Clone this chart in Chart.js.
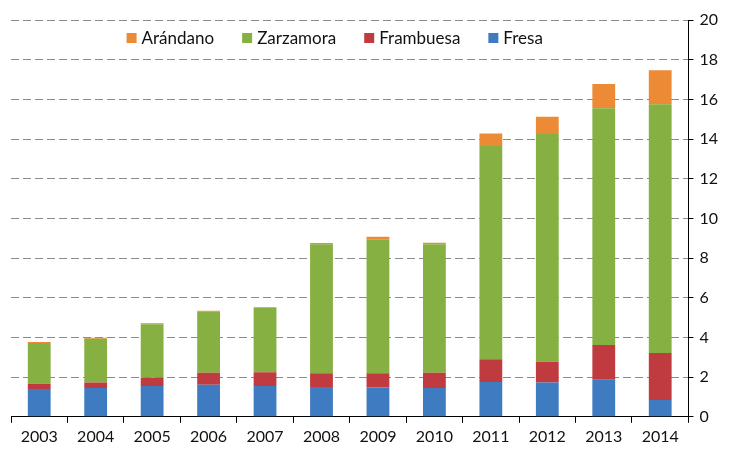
<!DOCTYPE html>
<html>
<head>
<meta charset="utf-8">
<script src="https://cdn.jsdelivr.net/npm/chart.js@4/dist/chart.umd.min.js"></script>
<style>
    html, body { margin: 0; padding: 0; background: #fff; }
    #wrap { width: 730px; height: 450px; }
</style>
</head>
<body>
<div id="wrap"><canvas id="chart"></canvas></div>
<script>
// Years on the x axis
const years = ['2003', '2004', '2005', '2006', '2007', '2008', '2009', '2010', '2011', '2012', '2013', '2014'];

// Stacked series, bottom to top
const fresa     = [1.40, 1.45, 1.55, 1.62, 1.55, 1.50, 1.48, 1.45, 1.75, 1.73, 1.87, 0.85];
const frambuesa = [0.27, 0.28, 0.42, 0.60, 0.70, 0.70, 0.72, 0.77, 1.15, 1.05, 1.75, 2.37];
const zarzamora = [2.05, 2.20, 2.70, 3.08, 3.24, 6.50, 6.73, 6.48, 10.75, 11.47, 11.93, 12.53];
const arandano  = [0.05, 0.05, 0.04, 0.05, 0.03, 0.06, 0.15, 0.07, 0.63, 0.87, 1.22, 1.72];

const FONT = 'Lato, "Open Sans", sans-serif';

// Legend drawn inside the plot area, in one row, top series first
const insideLegend = {
    id: 'insideLegend',
    afterDraw(chart) {
        const c = chart.ctx;
        const area = chart.chartArea;
        const items = chart.data.datasets.slice().reverse();
        const box = 10, gapText = 5, gapItem = 28;
        c.save();
        c.font = '17px ' + FONT;
        c.textBaseline = 'middle';
        let total = 0;
        items.forEach((ds, i) => {
            total += box + gapText + c.measureText(ds.label).width + (i < items.length - 1 ? gapItem : 0);
        });
        let x = (area.left + area.right) / 2 - 15 - total / 2;
        const y = area.top + 18;
        items.forEach(ds => {
            c.fillStyle = ds.backgroundColor;
            c.fillRect(x, y - box / 2, box, box);
            x += box + gapText;
            c.fillStyle = '#111';
            c.fillText(ds.label, x, y + 1);
            x += c.measureText(ds.label).width + gapItem;
        });
        c.restore();
    }
};

const ctx = document.getElementById('chart').getContext('2d');
new Chart(ctx, {
    type: 'bar',
    data: {
        labels: years,
        datasets: [
            { label: 'Fresa', data: fresa, backgroundColor: '#3f7bc1' },
            { label: 'Frambuesa', data: frambuesa, backgroundColor: '#bf3b40' },
            { label: 'Zarzamora', data: zarzamora, backgroundColor: '#86b041' },
            { label: 'Arándano', data: arandano, backgroundColor: '#ec8a36' }
        ]
    },
    options: {
        responsive: true,
        maintainAspectRatio: false,
        animation: false,
        datasets: {
            bar: { barPercentage: 0.8, categoryPercentage: 0.505 }
        },
        layout: { padding: { left: 11, top: 20, right: 6, bottom: 0 } },
        scales: {
            x: {
                stacked: true,
                grid: {
                    offset: true,
                    drawOnChartArea: false,
                    drawTicks: true,
                    tickLength: 6,
                    tickColor: '#000'
                },
                border: { display: true, color: '#000', width: 1 },
                ticks: { color: '#111', font: { family: FONT, size: 16 }, padding: 4 }
            },
            y: {
                stacked: true,
                position: 'right',
                min: 0,
                max: 20,
                ticks: { stepSize: 2, color: '#111', font: { family: FONT, size: 16 }, padding: 6 },
                grid: {
                    color: '#8a8a8a',
                    tickColor: '#000',
                    tickLength: 5,
                    tickBorderDash: [],
                    lineWidth: 1
                },
                border: { display: true, color: '#000', width: 1, dash: [8, 4] }
            }
        },
        plugins: {
            legend: { display: false },
            tooltip: { enabled: false }
        }
    },
    plugins: [insideLegend]
});
</script>
</body>
</html>
